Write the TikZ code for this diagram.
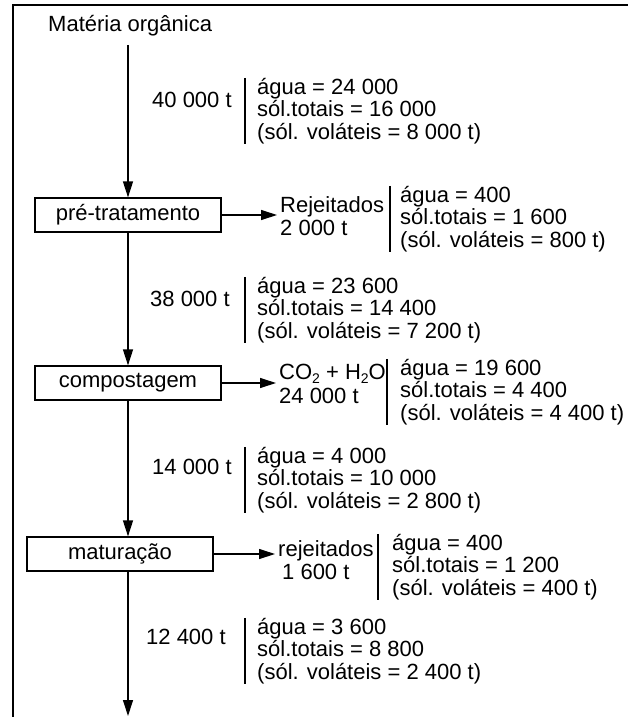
\documentclass[tikz,border=0pt]{standalone}
\usepackage{fontspec}
\setmainfont{Liberation Sans}
\usetikzlibrary{arrows.meta}
\begin{document}
\begin{tikzpicture}[x=1pt,y=-1pt,
  txt/.style={inner sep=0pt, font=\fontsize{22}{22.5}\selectfont, align=left},
  stage/.style={draw, line width=1.2pt, minimum width=186pt, minimum height=34pt,
    inner sep=0pt, font=\fontsize{22}{26}\selectfont},
  flow/.style={line width=1.2pt, -{Triangle[length=16pt,width=10pt]}},
  side/.style={flow, shorten >=3pt},
  sep/.style={line width=1.3pt}]
\useasboundingbox (0,0) rectangle (628,717);
% frame
\draw[line width=1.6pt] (13,717) -- (13,5) -- (628,5);

% source
\node[txt, anchor=west] (src) at (48,26) {Matéria orgânica};
\coordinate (s0) at (128,45);

% process stages
\node[stage] (pre)  at (128,215) {pré-tratamento};
\node[stage] (comp) at (128,383) {compostagem};
\node[stage] (mat)  at (120,554) {maturação};
\coordinate (out) at (128,716);

% main flow
\draw[flow] (s0) -- (pre.north);
\draw[flow] (pre.south) -- (comp.north);
\draw[flow] (comp.south) -- (comp.south |- mat.north);
\draw[flow] (mat.south -| comp.south) -- (out);

% flow labels and compositions
\node[txt, anchor=west] (f1) at (152,100) {40 000 t};
\node[txt, anchor=west] (d1) at (257,111) {água = 24 000\\sól.totais = 16 000\\(sól. voláteis = 8 000 t)};
\node[txt, anchor=west] (f2) at (150,299) {38 000 t};
\node[txt, anchor=west] (d2) at (257,310) {água = 23 600\\sól.totais = 14 400\\(sól. voláteis = 7 200 t)};
\node[txt, anchor=west] (f3) at (152,467) {14 000 t};
\node[txt, anchor=west] (d3) at (257,480) {água = 4 000\\sól.totais = 10 000\\(sól. voláteis = 2 800 t)};
\node[txt, anchor=west] (f4) at (146,637) {12 400 t};
\node[txt, anchor=west] (d4) at (257,651) {água = 3 600\\sól.totais = 8 800\\(sól. voláteis = 2 400 t)};

% side streams
\node[txt, anchor=west] (r1) at (280,216) {Rejeitados\\2 000 t};
\node[txt, anchor=west] (e1) at (400,219) {água = 400\\sól.totais = 1 600\\(sól. voláteis = 800 t)};
\node[txt, anchor=west, font=\fontsize{22}{24.5}\selectfont] (r2) at (279,384)
  {CO{\fontsize{14}{14}\selectfont\raisebox{-4pt}{2}} + H{\fontsize{14}{14}\selectfont\raisebox{-4pt}{2}}O\\24 000 t};
\node[txt, anchor=west] (e2) at (400,392) {água = 19 600\\sól.totais = 4 400\\(sól. voláteis = 4 400 t)};
\node[txt, anchor=west] (r3) at (278,560) {rejeitados\\\hspace*{4pt}1 600 t};
\node[txt, anchor=west] (e3) at (392,567) {água = 400\\sól.totais = 1 200\\(sól. voláteis = 400 t)};

\draw[side] (pre.east) -- (pre.east -| r1.west);
\draw[side] (comp.east) -- (comp.east -| r2.west);
\draw[side] (mat.east) -- (mat.east -| r3.west);

% separators
\foreach \d/\g in {d1/12, d2/12, d3/12, d4/12, e1/10, e2/13, e3/14}
  \draw[sep] ([xshift=-\g pt]\d.north west) -- ([xshift=-\g pt]\d.south west);
\end{tikzpicture}
\end{document}
